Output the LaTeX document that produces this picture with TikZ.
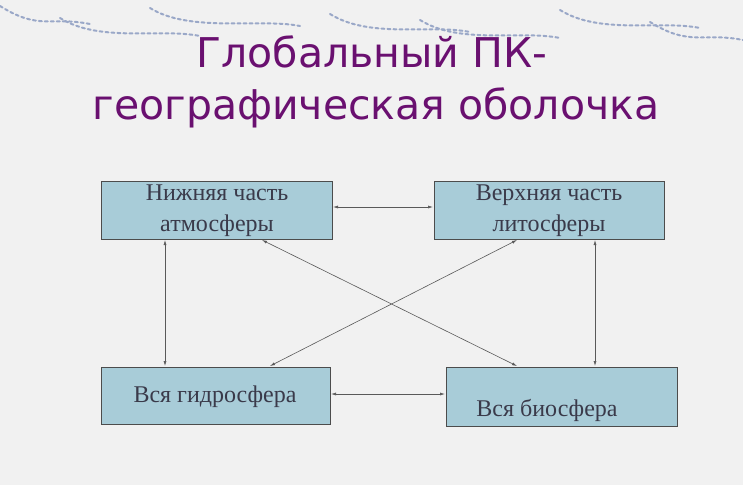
\documentclass[tikz,border=0pt]{standalone}
\usepackage{fontspec}
\setmainfont{Liberation Serif}
\newfontfamily\titlefont{DejaVu Sans}
\usetikzlibrary{arrows.meta}
\definecolor{bg}{HTML}{F1F1F1}
\definecolor{boxfill}{HTML}{A8CCD8}
\definecolor{titlecol}{HTML}{6A1070}
\definecolor{txt}{HTML}{3A3A4A}
\definecolor{swirl}{HTML}{9AA8C8}
\tikzset{
  box/.style={draw=black!70, fill=boxfill, line width=0.6pt},
  lbl/.style={font=\fontsize{24}{31}\selectfont, text=txt, align=center, inner sep=0},
  link/.style={draw=black!65, line width=0.6pt, {Latex[length=5pt,width=3pt]}-{Latex[length=5pt,width=3pt]}},
  ttl/.style={font=\titlefont\fontsize{41}{58}\selectfont, text=titlecol, inner sep=0}
}
\begin{document}
\begin{tikzpicture}[x=1pt,y=-1pt]
\useasboundingbox (0,0) rectangle (743,485);
\fill[bg] (0,0) rectangle (743,485);
% decorative swirls at top
\foreach \a/\b/\c in {0/6/90, 60/18/200, 150/8/300, 330/14/470, 420/20/560, 560/10/700, 650/22/743}{
  \draw[swirl, line width=2pt, line cap=round, dashed] (\a,\b) .. controls (\a+40,\b+25) and (\c-40,\b+10) .. (\c,\b+18);
}
\node[ttl] (t1) at (372,52) {Глобальный ПК-};
\node[ttl] (t2) at (376,108) {географическая оболочка};

\node[box, minimum width=231, minimum height=58, anchor=north west] (atm) at (101,181) {};
\node[box, minimum width=230, minimum height=58, anchor=north west] (lit) at (434,181) {};
\node[box, minimum width=229, minimum height=57, anchor=north west] (hyd) at (101,367) {};
\node[box, minimum width=231, minimum height=59, anchor=north west] (bio) at (446,367) {};

\node[lbl] (atmT) at (217,211) {Нижняя часть\\атмосферы};
\node[lbl] (litT) at (549,211) {Верхняя часть\\литосферы};
\node[lbl] (hydT) at (215,397) {Вся гидросфера};
\node[lbl] (bioT) at (547,410) {Вся биосфера};

\coordinate (a1) at (333,207); \coordinate (a2) at (433,207);
\coordinate (b1) at (331,394); \coordinate (b2) at (445,394);
\coordinate (c1) at (165,240); \coordinate (c2) at (165,366);
\coordinate (d1) at (595,240); \coordinate (d2) at (595,366);
\coordinate (e1) at (262,240); \coordinate (e2) at (517,366);
\coordinate (f1) at (517,240); \coordinate (f2) at (270,366);
\draw[link] (a1) -- (a2);
\draw[link] (b1) -- (b2);
\draw[link] (c1) -- (c2);
\draw[link] (d1) -- (d2);
\draw[link] (e1) -- (e2);
\draw[link] (f1) -- (f2);
\end{tikzpicture}
\end{document}
